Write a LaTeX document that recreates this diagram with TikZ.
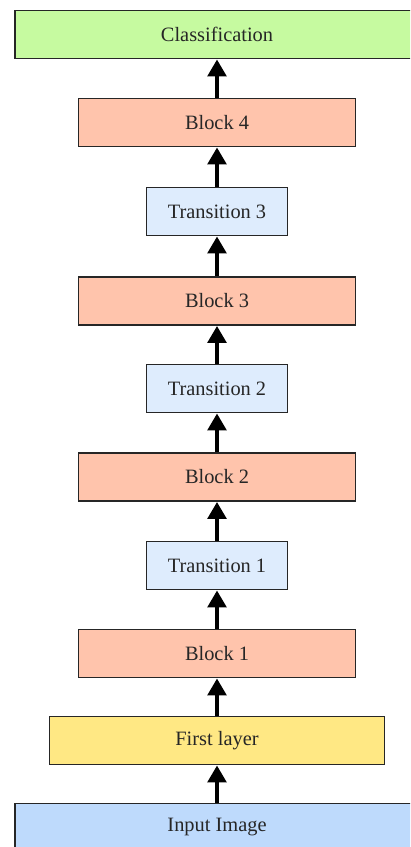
\documentclass[tikz,border=0pt]{standalone}
\usepackage{fontspec}
\setmainfont{Liberation Serif}
\usetikzlibrary{arrows.meta}
\definecolor{clsgreen}{RGB}{198,250,160}
\definecolor{blocksalmon}{RGB}{255,196,172}
\definecolor{transblue}{RGB}{222,236,253}
\definecolor{firstyellow}{RGB}{255,232,132}
\definecolor{inputblue}{RGB}{190,218,252}
\begin{document}
\begin{tikzpicture}[x=0.025cm, y=0.025cm,
    layer/.style={draw=black!85, line width=1.3pt, minimum height=1.2cm,
        inner sep=0pt, font=\fontsize{14.5}{17}\selectfont, text=black!85},
    wide/.style={layer, minimum width=10.1cm},
    blockbox/.style={layer, fill=blocksalmon, minimum width=6.92cm},
    transbox/.style={layer, fill=transblue, minimum width=3.52cm},
    flow/.style={-{Triangle[length=12pt, width=13pt]}, line width=3.5pt}]
    \clip (0,0) rectangle (410,847);
    % stack of layers, bottom to top
    \node[wide, fill=inputblue] (input) at (217, 19.5) {Input Image};
    \node[layer, fill=firstyellow, minimum width=8.37cm] (first) at (217, 106.5) {First layer};
    \node[blockbox] (block1) at (217, 193.5) {Block 1};
    \node[transbox] (trans1) at (217, 281.5) {Transition 1};
    \node[blockbox] (block2) at (217, 370) {Block 2};
    \node[transbox] (trans2) at (217, 458.5) {Transition 2};
    \node[blockbox] (block3) at (217, 546) {Block 3};
    \node[transbox] (trans3) at (217, 635.5) {Transition 3};
    \node[blockbox] (block4) at (217, 724.5) {Block 4};
    \node[wide, fill=clsgreen] (cls) at (217, 812.5) {Classification};
    % arrows between consecutive layers
    \foreach \a/\b in {input/first, first/block1, block1/trans1, trans1/block2,
        block2/trans2, trans2/block3, block3/trans3, trans3/block4, block4/cls}
        \draw[flow] (\a.north) -- (\b.south);
\end{tikzpicture}
\end{document}
